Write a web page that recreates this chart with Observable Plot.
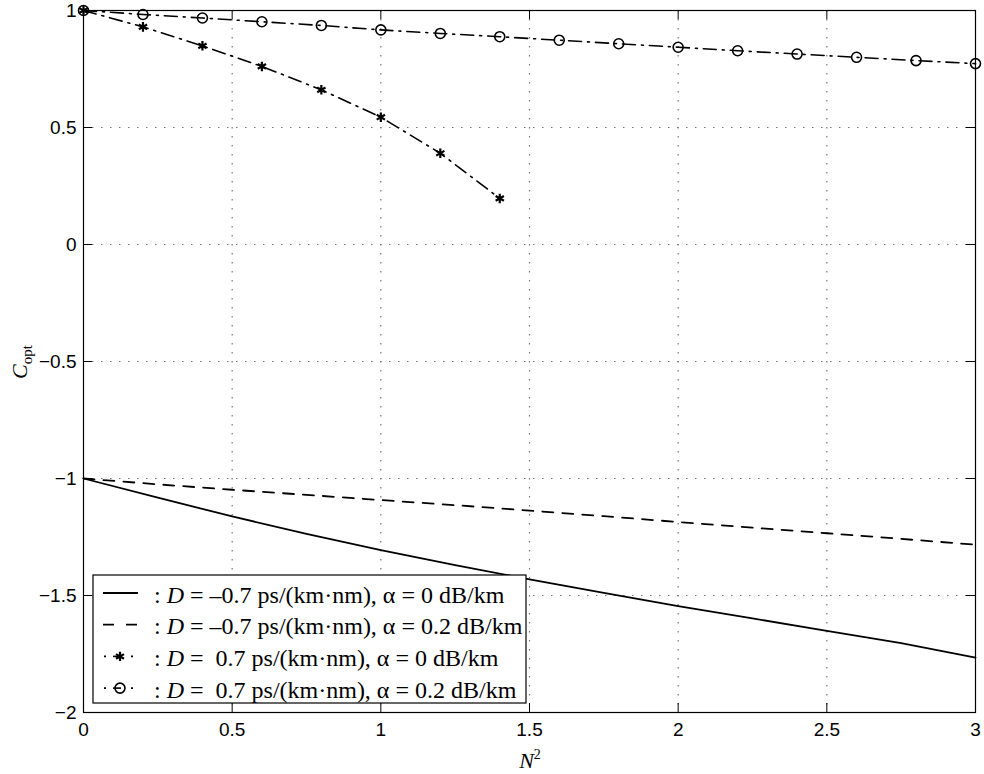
<!DOCTYPE html>
<html><head><meta charset="utf-8">
<script src="https://cdn.jsdelivr.net/npm/d3@7"></script>
<script src="https://cdn.jsdelivr.net/npm/@observablehq/plot@0.6"></script>
<style>body{margin:0;background:#fff} #chart{width:984px;height:774px}</style>
</head><body><div id="chart"></div>
<script>
// ---- data ----
const xTicks = [0, 0.5, 1, 1.5, 2, 2.5, 3];
const yTicks = [-2, -1.5, -1, -0.5, 0, 0.5, 1];
const xDense = [0, 0.25, 0.5, 0.75, 1, 1.25, 1.5, 1.75, 2, 2.25, 2.5, 2.75, 3];
// D = -0.7, alpha = 0 (solid)
const solidY = [-1, -1.082, -1.162, -1.237, -1.306, -1.370, -1.431, -1.489, -1.545, -1.598, -1.651, -1.704, -1.765];
// D = -0.7, alpha = 0.2 (dashed)
const dashedY = [-1, -1.025, -1.048, -1.070, -1.092, -1.114, -1.137, -1.161, -1.186, -1.210, -1.234, -1.258, -1.283];
// D = 0.7, alpha = 0 (stars)
const starX = [0, 0.2, 0.4, 0.6, 0.8, 1.0, 1.2, 1.4];
const starY = [1, 0.930, 0.849, 0.761, 0.661, 0.544, 0.390, 0.197];
// D = 0.7, alpha = 0.2 (circles)
const circleX = [0, 0.2, 0.4, 0.6, 0.8, 1.0, 1.2, 1.4, 1.6, 1.8, 2.0, 2.2, 2.4, 2.6, 2.8, 3.0];
const circleY = [1, 0.983, 0.968, 0.952, 0.936, 0.917, 0.902, 0.888, 0.873, 0.858, 0.843, 0.828, 0.814, 0.800, 0.786, 0.773];
const legendD = ["\u20130.7", "\u20130.7", " 0.7", " 0.7"];
const legendAlpha = ["0", "0.2", "0", "0.2"];

// ---- layout ----
const W = 984, H = 774;
const mL = 83, mR = 9, mT = 10, mB = 62;
const innerW = W - mL - mR, innerH = H - mT - mB;
const tickLen = 9;
const fmt = d => d < 0 ? "\u2212" + Math.abs(d) : String(d);

const solid = xDense.map((x, i) => ({x, y: solidY[i]}));
const dashed = xDense.map((x, i) => ({x, y: dashedY[i]}));
const stars = starX.map((x, i) => ({x, y: starY[i]}));
const circles = circleX.map((x, i) => ({x, y: circleY[i]}));
const innerX = xTicks.slice(1, -1), innerY = yTicks.slice(1, -1);

const plot = Plot.plot({
  width: W, height: H,
  marginLeft: mL, marginRight: mR, marginTop: mT, marginBottom: mB,
  style: {fontFamily: "'Liberation Sans', Arial, sans-serif", fontSize: "19px", background: "white", color: "black"},
  x: {domain: [0, 3]},
  y: {domain: [-2, 1]},
  marks: [
    Plot.gridX(innerX, {stroke: "#777", strokeOpacity: 1, strokeWidth: 1.2, strokeDasharray: "1.5,7.5"}),
    Plot.gridY(innerY, {stroke: "#777", strokeOpacity: 1, strokeWidth: 1.2, strokeDasharray: "1.5,7.5"}),
    Plot.tickX(xTicks, {x: d => d, stroke: "black", insetTop: innerH - tickLen}),
    Plot.tickX(xTicks, {x: d => d, stroke: "black", insetBottom: innerH - tickLen}),
    Plot.tickY(yTicks, {y: d => d, stroke: "black", insetRight: innerW - tickLen}),
    Plot.tickY(yTicks, {y: d => d, stroke: "black", insetLeft: innerW - tickLen}),
    Plot.line(solid, {x: "x", y: "y", stroke: "black", strokeWidth: 1.8}),
    Plot.line(dashed, {x: "x", y: "y", stroke: "black", strokeWidth: 1.8, strokeDasharray: "11,9"}),
    Plot.line(stars, {x: "x", y: "y", stroke: "black", strokeWidth: 1.6, strokeDasharray: "13,6,2,6"}),
    Plot.line(circles, {x: "x", y: "y", stroke: "black", strokeWidth: 1.6, strokeDasharray: "13,6,2,6"}),
    Plot.dot(stars, {x: "x", y: "y", r: 4.5, symbol: "asterisk", stroke: "black", strokeWidth: 2.2}),
    Plot.dot(circles, {x: "x", y: "y", r: 5, stroke: "black", strokeWidth: 1.6, fill: "none"}),
    Plot.frame({stroke: "black", strokeWidth: 1.2}),
    Plot.axisX({ticks: xTicks, tickSize: 0, tickPadding: 10, tickFormat: fmt, label: null, fontSize: 19}),
    Plot.axisY({ticks: yTicks, tickSize: 0, tickPadding: 7, tickFormat: fmt, label: null, fontSize: 19})
  ]
});
document.getElementById("chart").appendChild(plot);

// ---- axis labels (rich text) ----
const svg = d3.select(plot);
const serif = "'Liberation Serif', 'Times New Roman', serif";
const xl = svg.append("text").attr("x", 530).attr("y", 768).attr("text-anchor", "middle")
  .attr("font-family", serif).attr("font-size", 22).attr("fill", "black");
xl.append("tspan").attr("font-style", "italic").text("N");
xl.append("tspan").attr("font-size", 14).attr("dy", -9).text("2");

const yl = svg.append("text").attr("transform", "translate(27,362) rotate(-90)").attr("text-anchor", "middle")
  .attr("font-family", serif).attr("font-size", 22).attr("fill", "black");
yl.append("tspan").attr("font-style", "italic").text("C");
yl.append("tspan").attr("font-size", 15).attr("dy", 5).text("opt");

// ---- legend ----
const lg = svg.append("g");
lg.append("rect").attr("x", 93).attr("y", 575).attr("width", 433).attr("height", 128)
  .attr("fill", "white").attr("stroke", "black").attr("stroke-width", 1.2);
const rowY = i => 593 + i * 31.7;
lg.append("line").attr("x1", 103).attr("x2", 138).attr("y1", rowY(0)).attr("y2", rowY(0)).attr("stroke", "black").attr("stroke-width", 1.8);
lg.append("line").attr("x1", 103).attr("x2", 138).attr("y1", rowY(1)).attr("y2", rowY(1)).attr("stroke", "black").attr("stroke-width", 1.8).attr("stroke-dasharray", "11,12");
[2, 3].forEach(i => {
  const y = rowY(i);
  lg.append("line").attr("x1", 104).attr("x2", 106).attr("y1", y).attr("y2", y).attr("stroke", "black").attr("stroke-width", 1.6);
  lg.append("line").attr("x1", 113).attr("x2", 121).attr("y1", y).attr("y2", y).attr("stroke", "black").attr("stroke-width", 1.6);
  lg.append("line").attr("x1", 131).attr("x2", 133).attr("y1", y).attr("y2", y).attr("stroke", "black").attr("stroke-width", 1.6);
});
lg.append("path").attr("d", d3.symbol(d3.symbolAsterisk, 60)()).attr("transform", `translate(120,${rowY(2)})`)
  .attr("stroke", "black").attr("stroke-width", 2.2).attr("fill", "none");
lg.append("circle").attr("cx", 120).attr("cy", rowY(3)).attr("r", 5).attr("stroke", "black").attr("stroke-width", 1.6).attr("fill", "none");

legendD.forEach((dv, i) => {
  const t = lg.append("text").attr("x", 154).attr("y", rowY(i) + 9.5).attr("text-anchor", "start")
    .attr("font-family", serif).attr("font-size", 24).attr("fill", "black")
    .attr("xml:space", "preserve").style("white-space", "pre");
  t.append("tspan").text(": ");
  t.append("tspan").attr("font-style", "italic").text("D");
  t.append("tspan").text(" = " + dv + " ps/(km\u00b7nm), \u03b1 = " + legendAlpha[i] + " dB/km");
});
</script>
</body></html>
